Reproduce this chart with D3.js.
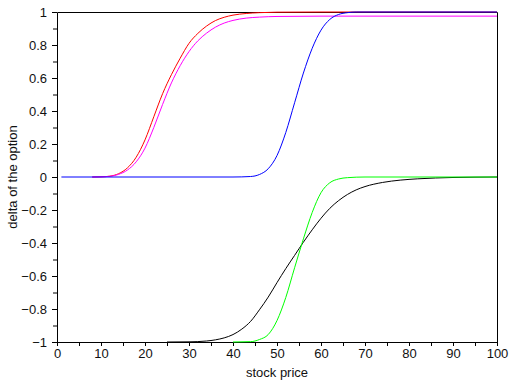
<!DOCTYPE html>
<html>
<head>
<meta charset="utf-8">
<script src="https://cdn.jsdelivr.net/npm/d3@7"></script>
<style>
  body { margin: 0; background: #fff; }
  .tick text { font-family: Arial, "Liberation Sans", sans-serif; font-size: 13px; fill: #111; }
  .label { font-family: Arial, "Liberation Sans", sans-serif; font-size: 13px; fill: #111; }
  .curve { fill: none; stroke-width: 1; }
</style>
</head>
<body>
<div id="chart-container"></div>
<script>
// stock prices / deltas
var redS = [8, 10, 12, 14, 16, 18, 20, 22, 24, 26, 28, 30, 32, 34, 36, 38, 40, 43, 46, 50, 60, 100];
var redD = [0, 0.001, 0.005, 0.02, 0.055, 0.12, 0.225, 0.365, 0.505, 0.62, 0.72, 0.81, 0.87, 0.915, 0.948, 0.968, 0.981, 0.991, 0.996, 0.999, 1, 1];

var magentaS = [8, 10, 12, 14, 16, 18, 20, 22, 24, 26, 28, 30, 32, 34, 36, 38, 40, 43, 46, 50, 60, 100];
var magentaD = [0, 0.001, 0.004, 0.016, 0.042, 0.092, 0.175, 0.3, 0.44, 0.57, 0.675, 0.76, 0.825, 0.872, 0.908, 0.933, 0.949, 0.963, 0.969, 0.973, 0.975, 0.975];

var blueS = [1, 40, 44, 46, 48, 50, 52, 54, 56, 58, 60, 62, 64, 66, 68, 100];
var blueD = [0, 0, 0.003, 0.015, 0.05, 0.13, 0.27, 0.45, 0.63, 0.78, 0.89, 0.955, 0.985, 0.996, 1, 1];

var greenS = [40, 44, 46, 48, 50, 52, 54, 56, 58, 60, 62, 64, 66, 70, 100];
var greenD = [-1, -0.998, -0.985, -0.955, -0.87, -0.73, -0.55, -0.375, -0.215, -0.095, -0.035, -0.012, -0.004, 0, 0];

var blackS = [25, 30, 34, 36, 38, 40, 42, 44, 46, 48, 50, 52, 54, 56, 58, 60, 62, 64, 66, 68, 70, 74, 78, 82, 86, 90, 95, 100];
var blackD = [-1, -0.999, -0.994, -0.987, -0.975, -0.955, -0.922, -0.875, -0.805, -0.728, -0.64, -0.555, -0.475, -0.395, -0.32, -0.25, -0.19, -0.143, -0.106, -0.078, -0.058, -0.033, -0.019, -0.011, -0.006, -0.003, -0.001, 0];

var xTicks = [0, 10, 20, 30, 40, 50, 60, 70, 80, 90, 100];
var yTicks = [-1, -0.8, -0.6, -0.4, -0.2, 0, 0.2, 0.4, 0.6, 0.8, 1];

var series = [
  { name: "red", s: redS, d: redD, color: "#ff0000" },
  { name: "magenta", s: magentaS, d: magentaD, color: "#ff00ff" },
  { name: "blue", s: blueS, d: blueD, color: "#0000ff" },
  { name: "black", s: blackS, d: blackD, color: "#000000" },
  { name: "green", s: greenS, d: greenD, color: "#00ff00" }
];

var margin = { top: 12, right: 18, bottom: 47, left: 57 },
  width = 515 - margin.left - margin.right,
  height = 389 - margin.top - margin.bottom;

var svg = d3.select("#chart-container")
  .append("svg")
  .attr("width", 515)
  .attr("height", 389)
  .append("g")
  .attr("transform", "translate(" + margin.left + "," + margin.top + ")");

var xScale = d3.scaleLinear().domain([0, 100]).range([0, width]);
var yScale = d3.scaleLinear().domain([-1, 1]).range([height, 0]);

// minor ticks
svg.append("g")
  .attr("transform", "translate(0," + height + ")")
  .call(d3.axisBottom(xScale).tickValues(d3.range(5, 100, 10)).tickSize(4).tickFormat(""))
  .call(g => g.select(".domain").remove());
svg.append("g")
  .call(d3.axisLeft(yScale).tickValues(d3.range(-0.9, 1, 0.2)).tickSize(4).tickFormat(""))
  .call(g => g.select(".domain").remove());

// main axes
svg.append("g")
  .attr("class", "x-axis")
  .attr("transform", "translate(0," + height + ")")
  .call(d3.axisBottom(xScale).tickValues(xTicks).tickSize(4).tickSizeOuter(0).tickPadding(3));

svg.append("g")
  .attr("class", "y-axis")
  .call(d3.axisLeft(yScale).tickValues(yTicks).tickSize(5).tickSizeOuter(0).tickPadding(5)
    .tickFormat(d3.format("")));

// top and right border
svg.append("path")
  .attr("d", "M0.5,0.5H" + (width + 0.5) + "V" + (height + 0.5))
  .attr("fill", "none")
  .attr("stroke", "#000");

// curves
var line = d3.line()
  .x(function(p) { return xScale(p[0]); })
  .y(function(p) { return yScale(p[1]); })
  .curve(d3.curveMonotoneX);

series.forEach(function(sr) {
  svg.append("path")
    .datum(sr.s.map(function(v, i) { return [v, sr.d[i]]; }))
    .attr("class", "curve")
    .attr("stroke", sr.color)
    .attr("d", line);
});

// axis labels
svg.append("text")
  .attr("class", "label")
  .attr("x", width / 2)
  .attr("y", height + 35)
  .attr("text-anchor", "middle")
  .text("stock price");

svg.append("text")
  .attr("class", "label")
  .attr("transform", "translate(" + (17 - margin.left) + "," + (height / 2) + ") rotate(-90)")
  .attr("text-anchor", "middle")
  .text("delta of the option");
</script>
</body>
</html>
